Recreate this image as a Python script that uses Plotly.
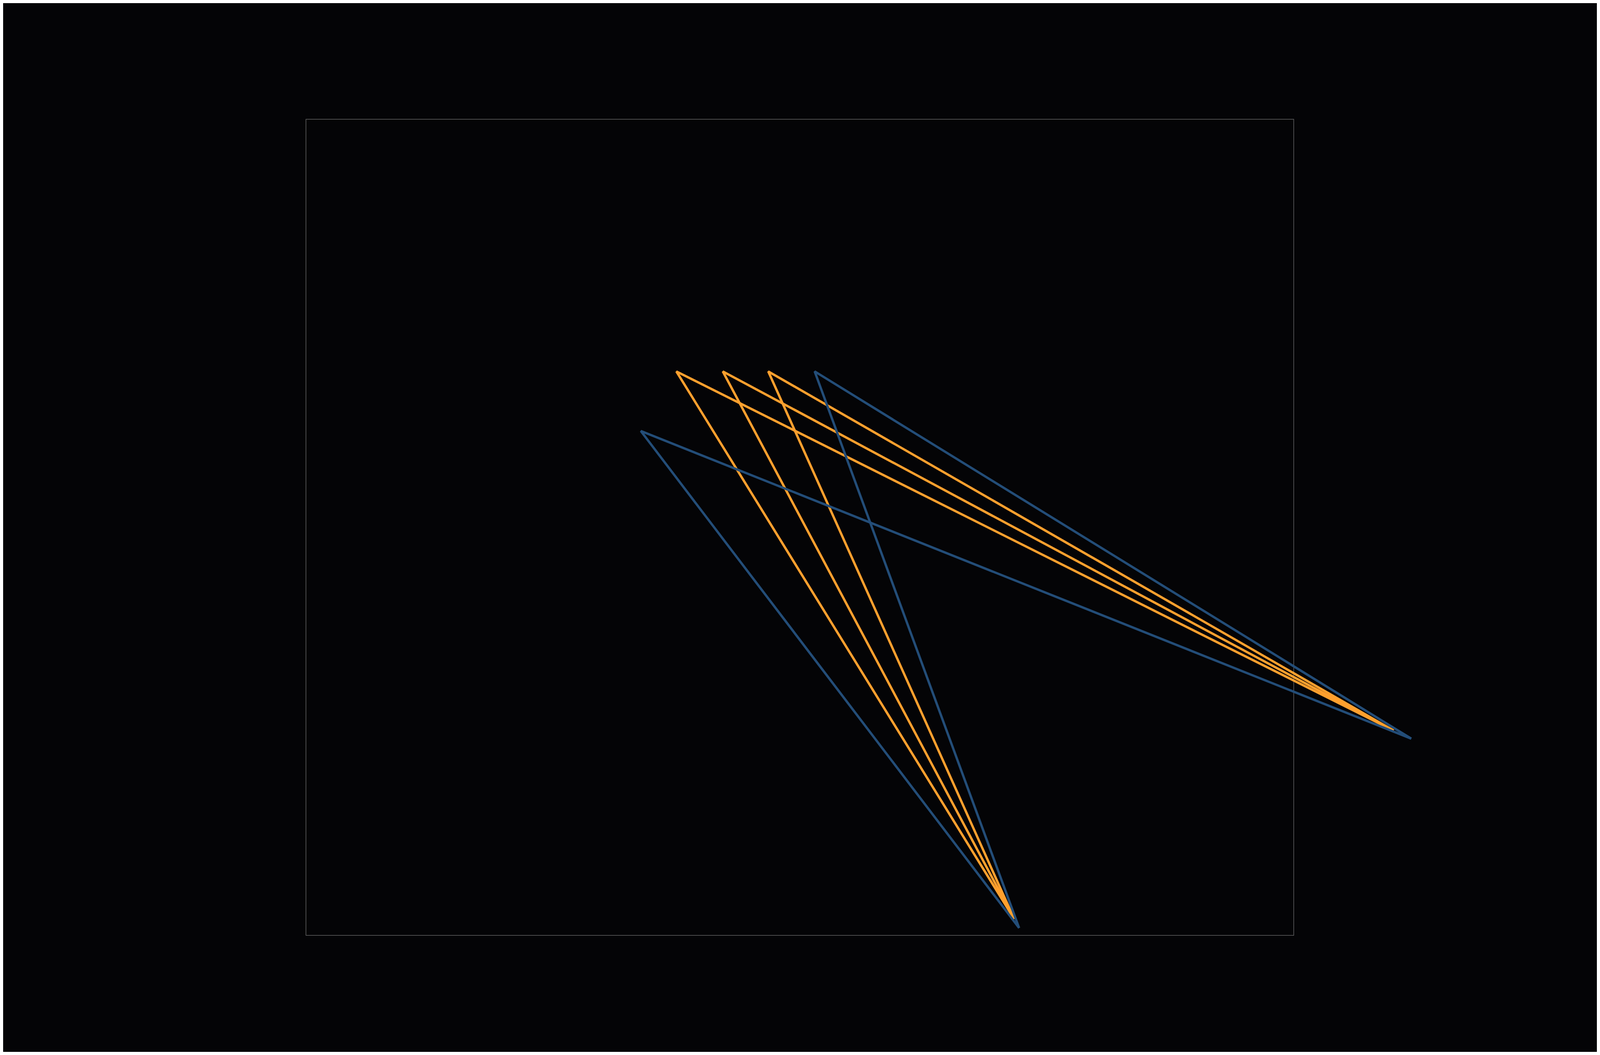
import plotly.graph_objects as go

# chevrons: each goes right tip -> apex -> bottom tip (units: frame = 0..100)
orange_apex_x = [37.5, 42.2, 46.8]
orange_apex_y = [69.1, 69.1, 69.1]
orange_right = (110.1, 25.1)
orange_bottom = (71.7, 2.0)

blue_apex_x = [33.9, 51.5]
blue_apex_y = [61.8, 69.1]
blue_right = (111.9, 24.1)
blue_bottom = (72.2, 0.9)

ORANGE = '#ffa02e'
BLUE = '#234d78'
BG = '#040406'

fig = go.Figure()


def add_chevrons(apx, apy, right, bottom, color):
    for ax_, ay_ in zip(apx, apy):
        fig.add_trace(go.Scatter(
            x=[right[0], ax_, bottom[0]],
            y=[right[1], ay_, bottom[1]],
            mode='lines',
            line=dict(color=color, width=6),
            hoverinfo='skip'))


add_chevrons(orange_apex_x, orange_apex_y, orange_right, orange_bottom, ORANGE)
add_chevrons(blue_apex_x, blue_apex_y, blue_right, blue_bottom, BLUE)

# frame of the 0..100 box
fig.add_shape(type='rect', xref='x', yref='y', x0=0, x1=100, y0=0, y1=100,
              line=dict(color='#646464', width=1.5), layer='below')

fig.update_layout(
    margin=dict(l=0, r=0, t=0, b=0),
    paper_bgcolor=BG, plot_bgcolor=BG,
    showlegend=False,
    xaxis=dict(range=[-30.66, 130.69], visible=False, fixedrange=True),
    yaxis=dict(range=[-14.28, 114.23], visible=False, fixedrange=True),
)

fig.write_html("out.html")
